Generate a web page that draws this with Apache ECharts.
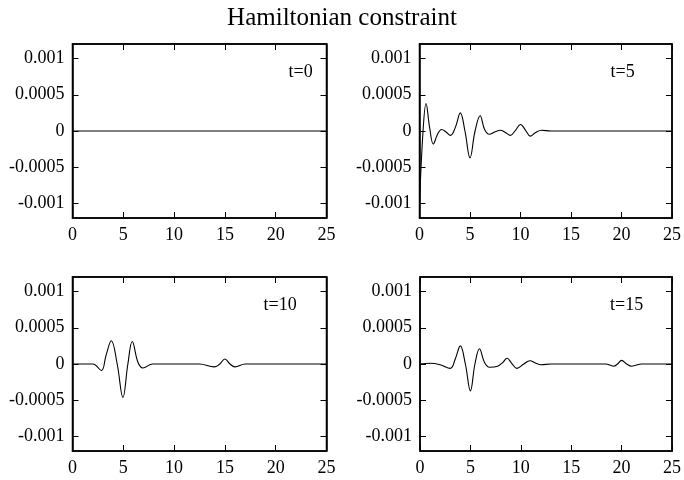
<!DOCTYPE html>
<html>
<head>
<meta charset="utf-8">
<script src="https://cdn.jsdelivr.net/npm/echarts@6/dist/echarts.min.js"></script>
<style>
  html, body { margin: 0; padding: 0; background: #fff; }
  #chart { width: 684px; height: 480px; }
</style>
</head>
<body>
<div id="chart"></div>
<script>
// panel labels
var panelNames = ['t=0', 't=5', 't=10', 't=15'];
var yTicks = [-0.001, -0.0005, 0, 0.0005, 0.001];

// t=0 : flat
var x0 = [0, 25];
var y0 = [0, 0];

// t=5
var x5 = [0, 0.35, 0.65, 1.0, 1.37, 1.8, 2.19, 2.6, 3.06, 3.55, 4.04, 4.5, 5.0, 5.5, 6.0, 6.45, 6.9, 7.5, 8.0, 8.5, 9.0, 9.5, 10.0, 10.5, 10.97, 11.5, 12.07, 13, 25];
var y5 = [-0.001, 0, 0.00038, 0.00005, -0.00018, -0.00004, 0.00002, -0.00001, -0.00006, 0.00005, 0.00025, 0, -0.00037, 0, 0.00021, 0.00002, -0.000045, -0.00001, 0.00001, -0.00002, -0.00006, 0.00001, 0.00009, 0.00001, -0.00007, -0.00002, 0.00001, 0, 0];

// t=10
var x10 = [0, 2.0, 2.84, 3.3, 3.82, 4.4, 4.96, 5.45, 5.88, 6.45, 6.92, 7.9, 9, 12.5, 13.95, 14.5, 15.0, 15.5, 15.98, 17.0, 18, 25];
var y10 = [0, 0, -0.00009, 0.00012, 0.00032, 0, -0.00046, 0, 0.00031, 0.00002, -0.000055, 0, 0, 0, -0.00004, 0, 0.00007, 0, -0.00004, 0, 0, 0];

// t=15
var x15 = [0, 1.0, 2.0, 3.0, 3.5, 4.0, 4.5, 5.0, 5.45, 5.9, 6.4, 6.9, 7.7, 8.2, 8.64, 9.1, 9.6, 10.3, 10.9, 11.5, 12.0, 13, 17.5, 18.4, 19.2, 19.6, 20.0, 20.5, 21.0, 22, 25];
var y15 = [0, 0.00001, -0.00001, -0.00006, 0.00007, 0.00025, 0, -0.00037, 0, 0.00021, 0.00002, -0.000045, -0.00003, 0.00002, 0.00008, 0.00001, -0.00006, 0, 0.000045, 0.00001, -0.00001, 0, 0, 0, -0.00003, 0, 0.00005, 0, -0.00003, 0, 0];

var xsAll = [x0, x5, x10, x15];
var ysAll = [y0, y5, y10, y15];

var font = 'Liberation Serif';
var grids = [
  { left: 72.5, top: 44, width: 254, height: 174 },
  { left: 419.5, top: 44, width: 255, height: 174 },
  { left: 72.5, top: 277, width: 254, height: 174 },
  { left: 420, top: 277, width: 254, height: 174 }
];
// where each "t=" label sits inside its panel
var labelLeft = [216, 191, 191, 190];

var xAxis = [], yAxis = [], series = [], graphic = [];
grids.forEach(function (g, i) {
  g.show = true;
  g.borderColor = '#000';
  g.borderWidth = 1.5;
  g.containLabel = false;
  // bottom/top and left/right axes, the second of each only carries ticks
  [false, true].forEach(function (mirror) {
    xAxis.push({
      type: 'value', gridIndex: i, min: 0, max: 25, interval: 5,
      position: mirror ? 'top' : 'bottom',
      axisLine: { show: true, onZero: false, lineStyle: { color: '#000', width: 1.5 } },
      axisTick: { show: true, inside: true, length: 6, lineStyle: { color: '#000', width: 1 } },
      axisLabel: { show: !mirror, color: '#000', fontFamily: font, fontSize: 18, margin: 8 },
      splitLine: { show: false }
    });
    yAxis.push({
      type: 'value', gridIndex: i, min: -0.0012, max: 0.0012,
      position: mirror ? 'right' : 'left',
      axisLine: { show: true, onZero: false, lineStyle: { color: '#000', width: 1.5 } },
      axisTick: { show: true, inside: true, length: 6, customValues: yTicks, lineStyle: { color: '#000', width: 1 } },
      axisLabel: {
        show: !mirror, color: '#000', fontFamily: font, fontSize: 18, margin: 8,
        customValues: yTicks,
        formatter: function (v) { return String(v); }
      },
      splitLine: { show: false }
    });
  });
  series.push({
    type: 'line',
    xAxisIndex: i * 2,
    yAxisIndex: i * 2,
    data: xsAll[i].map(function (x, k) { return [x, ysAll[i][k]]; }),
    smooth: 0.4,
    showSymbol: false,
    silent: true,
    lineStyle: { color: '#000', width: 1.1 }
  });
  graphic.push({
    type: 'text',
    left: g.left + labelLeft[i],
    top: g.top + 19,
    style: { text: panelNames[i], fill: '#000', font: '18px "Liberation Serif"' }
  });
});

var chart = echarts.init(document.getElementById('chart'));
chart.setOption({
  animation: false,
  title: {
    text: 'Hamiltonian constraint',
    left: 'center',
    top: 1,
    textStyle: { color: '#000', fontFamily: font, fontSize: 25, fontWeight: 'normal' }
  },
  grid: grids,
  xAxis: xAxis,
  yAxis: yAxis,
  series: series,
  graphic: graphic
});
</script>
</body>
</html>
